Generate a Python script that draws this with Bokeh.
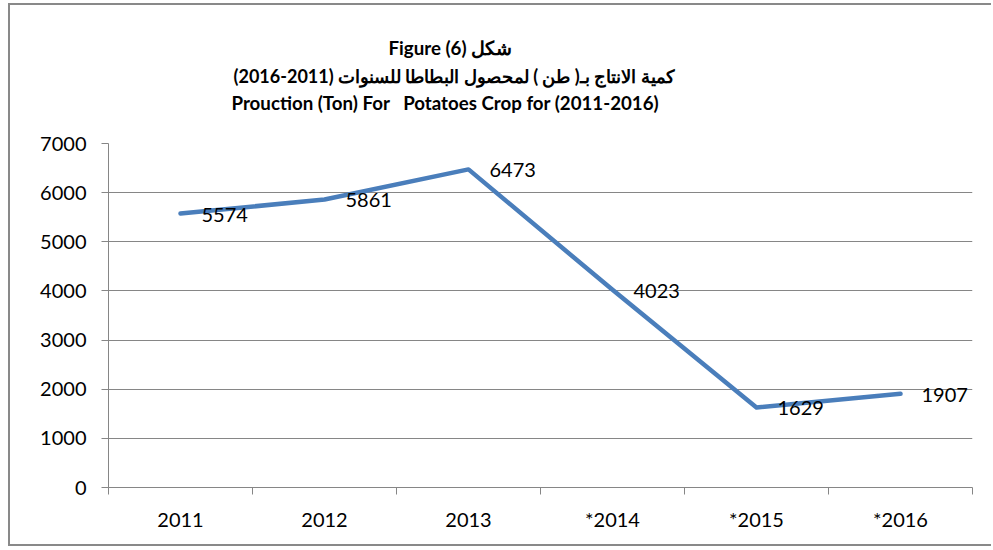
from bokeh.plotting import figure
from bokeh.models import Range1d, FixedTicker, Title, LinearAxis
from bokeh.embed import file_html
from bokeh.resources import INLINE
from bokeh.core.properties import value

# ---- data ----
years = ["2011", "2012", "2013", "*2014", "*2015", "*2016"]
production = [5574, 5861, 6473, 4023, 1629, 1907]
y_ticks = [0, 1000, 2000, 3000, 4000, 5000, 6000, 7000]
title_line1 = "\u202bشكل (6) Figure\u202c"
title_line2 = "\u202bكمية الانتاج بـ( طن ) لمحصول البطاطا للسنوات (2011-2016)\u202c"
title_line3 = "Prouction (Ton) For\u00a0\u00a0 Potatoes Crop for (2011-2016)"

xs = [i + 0.5 for i in range(len(years))]
boundaries = list(range(len(years) + 1))

GRAY = "#868686"
FONT = "Lato"

p = figure(width=983, height=543, title=None,
           x_range=Range1d(0, len(years)), y_range=Range1d(0, 7000),
           output_backend="svg", toolbar_location=None,
           min_border_left=98, min_border_right=21,
           min_border_top=138, min_border_bottom=61,
           margin=(3, 0, 0, 8))
p.styles = {"border-left": "2px solid #898989",
            "border-top": "2px solid #898989",
            "border-bottom": "2px solid #898989"}
p.outline_line_color = None
p.background_fill_color = "white"
p.border_fill_color = "white"

p.xgrid.visible = False
p.ygrid.grid_line_color = GRAY
p.ygrid.grid_line_width = 1

# y axis
ya = p.yaxis[0]
ya.ticker = FixedTicker(ticks=y_ticks)
ya.axis_line_color = GRAY
ya.major_tick_line_color = GRAY
ya.major_tick_out = 7
ya.major_tick_in = 0
ya.minor_tick_line_color = None
ya.major_label_standoff = 15
ya.major_label_text_font = FONT
ya.major_label_text_font_size = "20px"
ya.major_label_text_color = "black"

# x axis: labels at centers, tick marks at category boundaries
xa = p.xaxis[0]
xa.ticker = FixedTicker(ticks=xs, minor_ticks=boundaries)
xa.major_label_overrides = {x: y for x, y in zip(xs, years)}
xa.axis_line_color = GRAY
xa.major_tick_line_color = None
xa.major_tick_out = 0
xa.major_tick_in = 0
xa.minor_tick_line_color = GRAY
xa.minor_tick_out = 7
xa.minor_tick_in = 0
xa.major_label_standoff = 12
xa.major_label_text_font = FONT
xa.major_label_text_font_size = "20px"
xa.major_label_text_color = "black"

p.line(xs, production, line_color="#4A7EBB", line_width=4.5, line_join="round", line_cap="round")

p.text(xs, production, text=[str(v) for v in production],
       x_offset=21, y_offset=1, text_align="left", text_baseline="middle",
       text_font=value(FONT), text_font_size="20px", text_color="black")

# invisible spacer between the plot area and the title block
spacer = LinearAxis(ticker=FixedTicker(ticks=[3]), major_label_overrides={3: ""},
                    major_tick_out=29, major_tick_in=0, major_label_standoff=0,
                    axis_line_color=None, major_tick_line_color=None,
                    minor_tick_line_color=None, major_label_text_font_size="1px")
p.add_layout(spacer, "above")

# title lines, closest to the plot first
for txt, off, stand, size in [(title_line3, 123, 2, "18.7px"),
                              (title_line2, 125, 3, "18px"),
                              (title_line1, 280, 5, "18.7px")]:
    p.add_layout(Title(text=txt, align="left", offset=off, standoff=stand,
                       text_font=FONT, text_font_style="bold",
                       text_font_size=size, text_color="black"), "above")

open("out.html", "w").write(file_html(p, INLINE))
